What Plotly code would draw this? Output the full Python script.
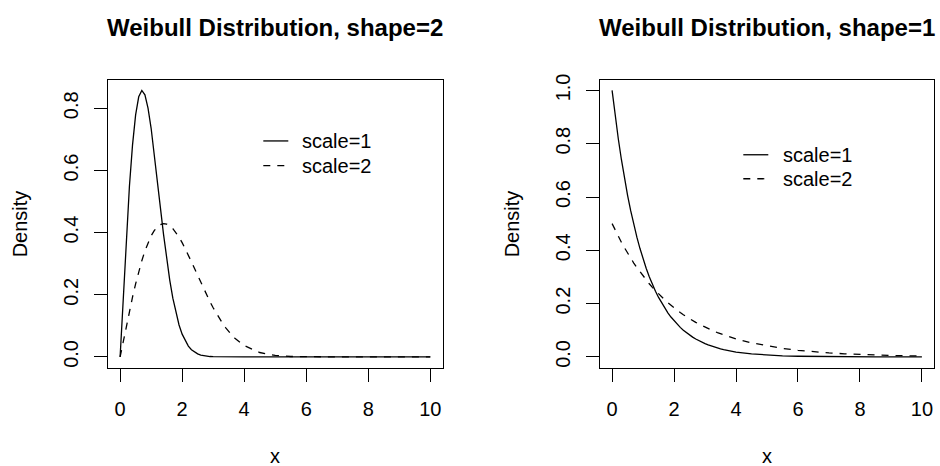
import plotly.graph_objects as go

# ---- data ----
x_vals = [0.0, 0.1, 0.2, 0.3, 0.4, 0.5, 0.6, 0.7, 0.8, 0.9,
          1.0, 1.1, 1.2, 1.3, 1.4, 1.5, 1.6, 1.7, 1.8, 1.9,
          2.0, 2.1, 2.2, 2.3, 2.4, 2.5, 2.6, 2.7, 2.8, 2.9,
          3.0, 3.1, 3.2, 3.3, 3.4, 3.5, 3.6, 3.7, 3.8, 3.9,
          4.0, 4.5, 5.0, 5.5, 6.0, 6.5, 7.0, 7.5, 8.0, 8.5,
          9.0, 9.5, 10.0]

# shape = 2
shape2_scale1 = [0.0, 0.198, 0.3843, 0.5484, 0.6817, 0.7788, 0.8372, 0.8577, 0.8437, 0.8007,
                 0.7358, 0.6560, 0.5686, 0.4798, 0.3944, 0.3162, 0.2474, 0.1890, 0.1410, 0.1028,
                 0.0733, 0.0511, 0.0348, 0.0232, 0.0151, 0.0097, 0.0060, 0.0037, 0.0022, 0.0013,
                 0.0007, 0.0004, 0.0002, 0.0001, 0.0001, 0.0, 0.0, 0.0, 0.0, 0.0,
                 0.0, 0.0, 0.0, 0.0, 0.0, 0.0, 0.0, 0.0, 0.0, 0.0,
                 0.0, 0.0, 0.0]
shape2_scale2 = [0.0, 0.0499, 0.0990, 0.1467, 0.1922, 0.2349, 0.2742, 0.3096, 0.3409, 0.3675,
                 0.3894, 0.4064, 0.4186, 0.4260, 0.4288, 0.4273, 0.4218, 0.4127, 0.4004, 0.3853,
                 0.3679, 0.3486, 0.3280, 0.3064, 0.2843, 0.2620, 0.2399, 0.2182, 0.1972, 0.1771,
                 0.1581, 0.1403, 0.1237, 0.1084, 0.0945, 0.0818, 0.0705, 0.0604, 0.0514, 0.0435,
                 0.0366, 0.0142, 0.0048, 0.0014, 0.0004, 0.0001, 0.0, 0.0, 0.0, 0.0,
                 0.0, 0.0, 0.0]
# shape = 1
shape1_scale1 = [1.0, 0.9048, 0.8187, 0.7408, 0.6703, 0.6065, 0.5488, 0.4966, 0.4493, 0.4066,
                 0.3679, 0.3329, 0.3012, 0.2725, 0.2466, 0.2231, 0.2019, 0.1827, 0.1653, 0.1496,
                 0.1353, 0.1225, 0.1108, 0.1003, 0.0907, 0.0821, 0.0743, 0.0672, 0.0608, 0.0550,
                 0.0498, 0.0450, 0.0408, 0.0369, 0.0334, 0.0302, 0.0273, 0.0247, 0.0224, 0.0202,
                 0.0183, 0.0111, 0.0067, 0.0041, 0.0025, 0.0015, 0.0009, 0.0006, 0.0003, 0.0002,
                 0.0001, 0.0001, 0.0]
shape1_scale2 = [0.5, 0.4756, 0.4524, 0.4304, 0.4094, 0.3894, 0.3704, 0.3523, 0.3352, 0.3188,
                 0.3033, 0.2885, 0.2744, 0.2610, 0.2483, 0.2362, 0.2247, 0.2137, 0.2033, 0.1934,
                 0.1839, 0.1750, 0.1664, 0.1583, 0.1506, 0.1433, 0.1363, 0.1296, 0.1233, 0.1173,
                 0.1116, 0.1061, 0.1009, 0.0960, 0.0913, 0.0869, 0.0827, 0.0786, 0.0748, 0.0711,
                 0.0677, 0.0527, 0.0410, 0.0320, 0.0249, 0.0194, 0.0151, 0.0118, 0.0092, 0.0071,
                 0.0056, 0.0043, 0.0034]

x_ticks = [0, 2, 4, 6, 8, 10]
y_ticks_left = [0.0, 0.2, 0.4, 0.6, 0.8]
y_ticks_right = [0.0, 0.2, 0.4, 0.6, 0.8, 1.0]
titles = ["Weibull Distribution, shape=2", "Weibull Distribution, shape=1"]
legend_labels = ["scale=1", "scale=2"]

# ---- styling / layout helpers ----
W, H = 940, 466
FONT = "Liberation Sans, Arial, Helvetica, sans-serif"
LW = 1.3
DASH = "7px,7px"


def px(v):
    return v / W


def py(v):
    return 1 - v / H


boxes = [  # left, right, top, bottom in pixels
    (107.7, 442.7, 74.7, 366.3),
    (599.7, 934.3, 74.7, 366.3),
]

fig = go.Figure()

panels = [
    (shape2_scale1, shape2_scale2, "x", "y"),
    (shape1_scale1, shape1_scale2, "x2", "y2"),
]
for s1, s2, xa, ya in panels:
    fig.add_trace(go.Scatter(x=x_vals, y=s1, mode="lines", xaxis=xa, yaxis=ya,
                             name=legend_labels[0], showlegend=False,
                             line=dict(color="black", width=LW)))
    fig.add_trace(go.Scatter(x=x_vals, y=s2, mode="lines", xaxis=xa, yaxis=ya,
                             name=legend_labels[1], showlegend=False,
                             line=dict(color="black", width=LW, dash=DASH)))


def xaxis_cfg(box):
    return dict(domain=[px(box[0]), px(box[1])], range=[-0.4, 10.4],
                tickvals=x_ticks, ticktext=[str(t) for t in x_ticks],
                ticks="outside", ticklen=13, tickwidth=LW, tickcolor="black",
                showline=True, mirror=True, linecolor="black", linewidth=LW,
                showgrid=False, zeroline=False, ticklabelstandoff=10,
                tickfont=dict(family=FONT, size=20, color="black"))


def yaxis_cfg(box, ticks, rng):
    return dict(domain=[py(box[3]), py(box[2])], range=rng,
                tickvals=ticks, ticktext=[f"{t:.1f}" for t in ticks],
                ticks="outside", ticklen=13, tickwidth=LW, tickcolor="black",
                showline=True, mirror=True, linecolor="black", linewidth=LW,
                showgrid=False, zeroline=False, tickangle=-90, ticklabelstandoff=8,
                tickfont=dict(family=FONT, size=20, color="black"))


fig.update_layout(
    width=W, height=H,
    margin=dict(l=0, r=0, t=0, b=0),
    paper_bgcolor="white", plot_bgcolor="white",
    showlegend=False,
    xaxis=xaxis_cfg(boxes[0]),
    yaxis=yaxis_cfg(boxes[0], y_ticks_left, [-0.0343, 0.892]),
    xaxis2=dict(xaxis_cfg(boxes[1]), anchor="y2"),
    yaxis2=dict(yaxis_cfg(boxes[1], y_ticks_right, [-0.04, 1.04]), anchor="x2"),
)
fig.update_layout(xaxis=dict(anchor="y"), yaxis=dict(anchor="x"))

annotations = []
shapes = []
legend_pos = [  # line x0, x1, text x, row y1, row y2
    (263.3, 288.3, 300.0, 136.7, 161.7),
    (743.3, 768.3, 780.7, 150.7, 175.0),
]
for i, box in enumerate(boxes):
    cx = (box[0] + box[1]) / 2
    cy = (box[2] + box[3]) / 2
    annotations.append(dict(text=f"<b>{titles[i]}</b>", x=px(cx), y=py(22),
                            xref="paper", yref="paper", showarrow=False,
                            xanchor="center", yanchor="middle",
                            font=dict(family=FONT, size=24, color="black")))
    annotations.append(dict(text="x", x=px(cx), y=py(456), xref="paper", yref="paper",
                            showarrow=False, xanchor="center", yanchor="middle",
                            font=dict(family=FONT, size=20, color="black")))
    annotations.append(dict(text="Density", x=px(box[0] - 88), y=py(cy), xref="paper",
                            yref="paper", showarrow=False, textangle=-90,
                            xanchor="center", yanchor="middle",
                            font=dict(family=FONT, size=20, color="black")))
    lx0, lx1, tx, r1, r2 = legend_pos[i]
    for lab, ry, dash in [(legend_labels[0], r1, "solid"), (legend_labels[1], r2, DASH)]:
        shapes.append(dict(type="line", xref="paper", yref="paper",
                           x0=px(lx0), x1=px(lx1), y0=py(ry), y1=py(ry),
                           line=dict(color="black", width=LW, dash=dash)))
        annotations.append(dict(text=lab, x=px(tx), y=py(ry), xref="paper", yref="paper",
                                showarrow=False, xanchor="left", yanchor="middle",
                                font=dict(family=FONT, size=20, color="black")))

fig.update_layout(annotations=annotations, shapes=shapes)
fig.write_html(
    "out.html",
    config={"displayModeBar": False},
    post_script="document.body.style.margin='0';document.body.style.overflow='hidden';",
)
